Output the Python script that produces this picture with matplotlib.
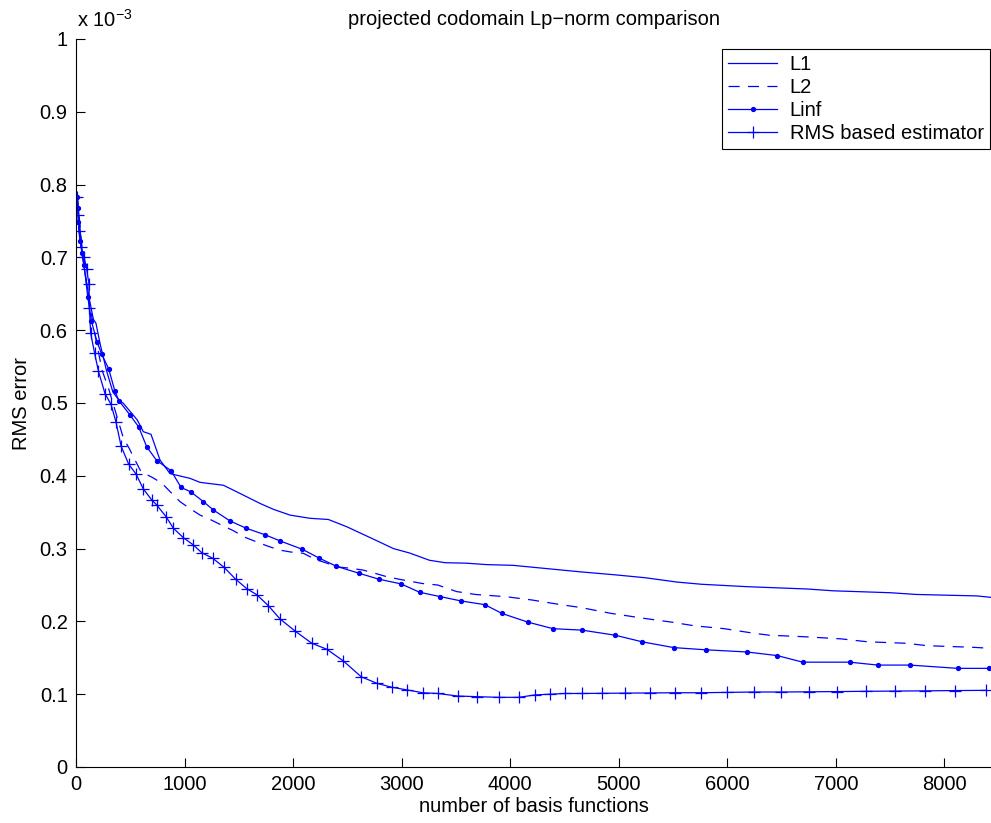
import matplotlib
matplotlib.use('Agg')
import matplotlib.pyplot as plt
from matplotlib.ticker import FuncFormatter

# values, y in units of 1e-3
l1_x = [12, 60, 120, 160, 184, 221, 280, 340, 400, 436, 565, 620, 691, 774, 866, 1050, 1143,
        1358, 1481, 1696, 1818, 1972, 2157, 2325, 2495, 2740, 2925, 3072, 3256, 3402, 3593,
        3784, 4027, 4374, 4652, 4965, 5243, 5538, 5764, 6181, 6737, 6980, 7501, 7744, 8300, 8432]
l1_y = [0.783, 0.70, 0.645, 0.615, 0.6095, 0.582, 0.545, 0.515, 0.503, 0.4996, 0.4766, 0.4606,
        0.457, 0.4217, 0.403, 0.3965, 0.391, 0.387, 0.378, 0.362, 0.354, 0.346, 0.3416, 0.340,
        0.330, 0.313, 0.300, 0.294, 0.284, 0.2806, 0.280, 0.278, 0.277, 0.272, 0.268, 0.264,
        0.260, 0.254, 0.251, 0.2477, 0.2445, 0.242, 0.2394, 0.237, 0.235, 0.233]

l2_x = [12, 60, 120, 180, 240, 300, 380, 436, 489, 553, 599, 700, 790, 882, 958, 1050, 1143,
        1250, 1358, 1450, 1557, 1659, 1763, 1874, 1979, 2095, 2203, 2311, 2403, 2525, 2642,
        2756, 2863, 2985, 3193, 3332, 3506, 3680, 3958, 4201, 4444, 4652, 4930, 5243, 5486,
        5695, 5972, 6250, 6389, 6702, 7049, 7292, 7640, 7848, 8265, 8432]
l2_y = [0.783, 0.705, 0.64, 0.59, 0.545, 0.52, 0.48, 0.452, 0.438, 0.419, 0.4056, 0.398, 0.390,
        0.376, 0.3645, 0.355, 0.346, 0.339, 0.331, 0.3246, 0.3155, 0.3095, 0.3036, 0.298,
        0.2953, 0.2935, 0.2853, 0.280, 0.275, 0.273, 0.2706, 0.266, 0.2614, 0.2577, 0.252,
        0.250, 0.241, 0.237, 0.234, 0.2294, 0.2235, 0.219, 0.211, 0.204, 0.199, 0.194, 0.190,
        0.1836, 0.181, 0.179, 0.176, 0.172, 0.170, 0.1666, 0.1644, 0.163]

linf_x = [12, 15, 21, 39, 58, 74, 108, 141, 194, 237, 301, 359, 396, 495, 578, 651, 743, 876,
          968, 1057, 1174, 1266, 1419, 1567, 1742, 1883, 2086, 2240, 2399, 2611, 2790, 2995,
          3166, 3357, 3551, 3767, 3923, 4163, 4395, 4663, 4968, 5215, 5507, 5802, 6181, 6462,
          6695, 7129, 7386, 7681, 8123, 8407]
linf_y = [0.783, 0.768, 0.748, 0.722, 0.706, 0.690, 0.646, 0.613, 0.584, 0.567, 0.547, 0.516,
          0.503, 0.484, 0.467, 0.440, 0.421, 0.407, 0.384, 0.378, 0.3645, 0.353, 0.338, 0.328,
          0.319, 0.3104, 0.299, 0.287, 0.2757, 0.266, 0.258, 0.2515, 0.240, 0.234, 0.228, 0.223,
          0.211, 0.199, 0.190, 0.188, 0.181, 0.172, 0.164, 0.161, 0.158, 0.153, 0.144, 0.144,
          0.140, 0.140, 0.1355, 0.1355]

rms_x = [12, 21, 28, 46, 74, 98, 120, 123, 135, 172, 206, 267, 323, 369, 415, 485, 553, 620,
         697, 743, 829, 897, 989, 1081, 1158, 1260, 1364, 1472, 1573, 1665, 1772, 1880, 2018,
         2172, 2311, 2464, 2627, 2771, 2910, 3054, 3193, 3332, 3516, 3697, 3895, 4079, 4229,
         4368, 4506, 4659, 4843, 5059, 5285, 5517, 5757, 5997, 6247, 6493, 6754, 7015, 7282,
         7546, 7824, 8102, 8387]
rms_y = [0.783, 0.758, 0.736, 0.714, 0.701, 0.684, 0.663, 0.631, 0.596, 0.568, 0.544, 0.513,
         0.498, 0.4735, 0.441, 0.416, 0.4025, 0.382, 0.367, 0.360, 0.344, 0.328, 0.315, 0.305,
         0.2944, 0.2867, 0.2743, 0.2578, 0.245, 0.2367, 0.2216, 0.2033, 0.1868, 0.170, 0.1617,
         0.1456, 0.124, 0.115, 0.1095, 0.1058, 0.102, 0.101, 0.0975, 0.0966, 0.0957, 0.0957,
         0.099, 0.100, 0.101, 0.101, 0.1012, 0.1015, 0.1017, 0.102, 0.102, 0.1025, 0.103,
         0.103, 0.1033, 0.1036, 0.104, 0.1043, 0.1046, 0.105, 0.1053]

plt.rcParams['font.family'] = ['Liberation Sans', 'DejaVu Sans']
plt.rcParams['mathtext.default'] = 'regular'
plt.rcParams['lines.scale_dashes'] = False
fs = 14.5

fig = plt.figure(figsize=(9.91, 8.23), dpi=100)
ax = fig.add_axes([76 / 991, 56 / 823, 915 / 991, 728 / 823])

s = 1e-3
ax.plot(l1_x, [v * s for v in l1_y], color='b', lw=0.9, label='L1')
ax.plot(l2_x, [v * s for v in l2_y], color='b', lw=0.9, linestyle=(0, (8, 6)), label='L2')
ax.plot(linf_x, [v * s for v in linf_y], color='b', lw=0.9, marker='o', markersize=2.8, label='Linf')
ax.plot(rms_x, [v * s for v in rms_y], color='b', lw=0.9, marker='+', markersize=8,
        markeredgewidth=0.9, label='RMS based estimator')

ax.set_xlim(0, 8430)
ax.set_ylim(0, 1e-3)
ax.set_xticks(range(0, 8001, 1000))
ax.set_yticks([i * 1e-4 for i in range(11)])
ax.yaxis.set_major_formatter(FuncFormatter(lambda v, p: '%g' % round(v * 1e3, 3)))
ax.tick_params(direction='in', length=6.5, width=0.8, labelsize=fs, pad=6)
for side in ['top', 'right']:
    ax.spines[side].set_visible(False)
for side in ['left', 'bottom']:
    ax.spines[side].set_linewidth(0.8)

ax.set_title('projected codomain Lp\u2212norm comparison', fontsize=fs, pad=10)
ax.set_xlabel('number of basis functions', fontsize=fs, labelpad=2)
ax.set_ylabel('RMS error', fontsize=fs, labelpad=6)
fig.text(77 / 991, 1 - 27 / 823, 'x 10$^{-3}$', fontsize=fs, ha='left', va='baseline')

leg = ax.legend(loc='upper right', bbox_to_anchor=(990 / 991, 1 - 49 / 823),
                bbox_transform=fig.transFigure, borderaxespad=0, fontsize=fs,
                fancybox=False, framealpha=1, edgecolor='black', handlelength=2.4,
                handletextpad=0.65, borderpad=0.3, labelspacing=0.2)
leg.get_frame().set_linewidth(0.8)

fig.savefig('out.png', dpi=100)
